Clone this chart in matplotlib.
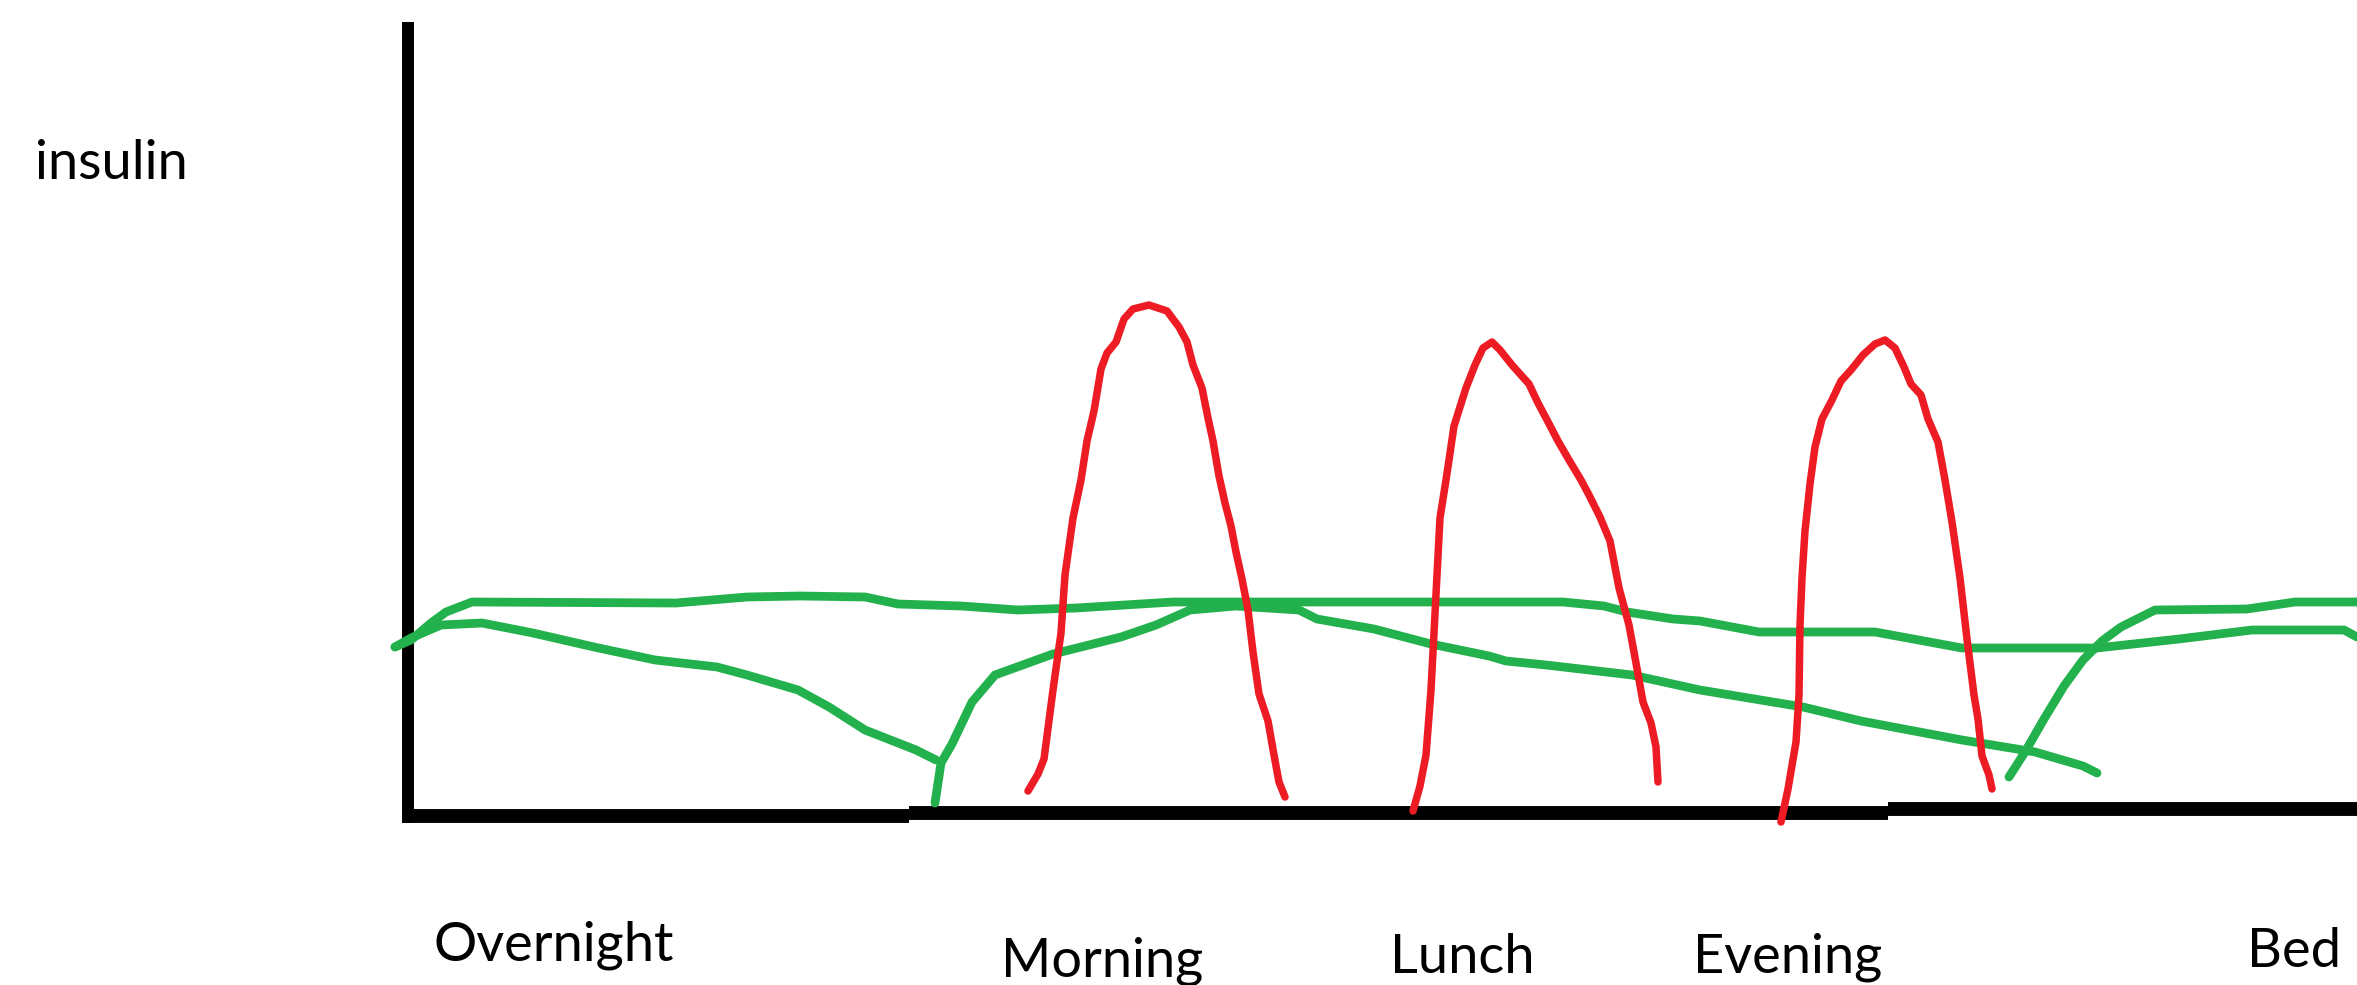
import matplotlib.pyplot as plt

# sketch of insulin over the day, coordinates (pixels, y down)
RED = "#ED1C24"
GREEN = "#22B14C"

# bolus peaks (red)
bolus1_x = [1028, 1038, 1044, 1053, 1061, 1065, 1073, 1081, 1087, 1094, 1101, 1107, 1116, 1124, 1133,
            1149, 1167, 1179, 1187, 1193, 1202, 1208, 1213, 1219, 1225, 1231, 1236, 1242, 1248, 1253,
            1259, 1268, 1274, 1279, 1285]
bolus1_y = [791, 774, 759, 690, 633, 575, 518, 480, 441, 411, 369, 353, 342, 319, 309,
            305, 311, 327, 342, 365, 388, 418, 441, 476, 503, 526, 552, 579, 610, 652,
            694, 721, 755, 782, 797]

bolus2_x = [1413, 1420, 1426, 1431, 1434, 1437, 1440, 1446, 1449, 1454, 1460, 1466, 1475, 1483, 1492,
            1500, 1512, 1529, 1538, 1546, 1558, 1569, 1581, 1589, 1600, 1610, 1619, 1629, 1636, 1643,
            1651, 1656, 1658]
bolus2_y = [811, 786, 755, 690, 633, 575, 518, 480, 460, 426, 407, 388, 365, 348, 342,
            350, 365, 384, 403, 418, 441, 460, 480, 495, 517, 541, 588, 625, 663, 702,
            723, 747, 782]

bolus3_x = [1781, 1788, 1796, 1799, 1800, 1802, 1805, 1810, 1815, 1822, 1832, 1841, 1851, 1863, 1875,
            1885, 1895, 1904, 1911, 1921, 1928, 1938, 1945, 1952, 1960, 1967, 1974, 1978, 1982, 1989,
            1992]
bolus3_y = [822, 789, 742, 695, 625, 578, 531, 484, 447, 419, 400, 381, 370, 355, 344,
            340, 348, 367, 384, 395, 419, 442, 480, 522, 578, 639, 695, 719, 756, 775,
            789]

# basal curves (green)
basal_a_x = [395, 411, 431, 446, 472, 676, 747, 800, 865, 898, 961, 1018, 1076, 1173, 1259, 1400,
             1563, 1604, 1627, 1673, 1700, 1759, 1875, 1962, 2097, 2179, 2252, 2344, 2357]
basal_a_y = [647, 640, 623, 612, 602, 603, 597, 596, 597, 604, 606, 610, 608, 602, 602, 602,
             602, 606, 612, 619, 621, 632, 632, 648, 648, 639, 630, 630, 637]

basal_b_x = [395, 411, 441, 482, 533, 594, 655, 717, 747, 798, 829, 865, 916, 936]
basal_b_y = [647, 638, 625, 623, 633, 647, 660, 667, 675, 690, 707, 730, 750, 760]

basal_c_x = [935, 941, 952, 972, 995, 1053, 1121, 1156, 1190, 1236, 1299, 1317, 1374, 1431, 1489,
             1506, 1546, 1632, 1700, 1803, 1861, 1962, 2035, 2083, 2097]
basal_c_y = [803, 763, 744, 702, 675, 654, 637, 625, 610, 606, 610, 619, 629, 644, 656,
             661, 665, 675, 690, 707, 721, 740, 752, 766, 773]

basal_d_x = [2009, 2025, 2044, 2064, 2083, 2102, 2121, 2155, 2247, 2295, 2357]
basal_d_y = [777, 752, 719, 686, 660, 641, 627, 610, 609, 602, 602]

# hand drawn axes
yaxis_x = [408, 408]
yaxis_y = [22, 823]
xaxis_x = [[414, 909], [909, 1888], [1888, 2357]]
xaxis_y = [[816, 816], [813, 813], [809, 809]]

labels = ["Overnight", "Morning", "Lunch", "Evening", "Bed"]
labels_x = [433, 1001, 1390, 1693, 2247]
labels_y = [961, 977, 973, 972, 967]

fig = plt.figure(figsize=(23.57, 9.85), dpi=100)
ax = fig.add_axes([0, 0, 1, 1])
ax.set_xlim(0, 2357)
ax.set_ylim(985, 0)
ax.axis("off")

ax.plot(yaxis_x, yaxis_y, color="black", lw=8.6, solid_capstyle="butt")
for xs, ys in zip(xaxis_x, xaxis_y):
    ax.plot(xs, ys, color="black", lw=10, solid_capstyle="butt")

for xs, ys in [(basal_a_x, basal_a_y), (basal_b_x, basal_b_y),
               (basal_c_x, basal_c_y), (basal_d_x, basal_d_y)]:
    ax.plot(xs, ys, color=GREEN, lw=6.3, solid_capstyle="round", solid_joinstyle="round")

for xs, ys in [(bolus1_x, bolus1_y), (bolus2_x, bolus2_y), (bolus3_x, bolus3_y)]:
    ax.plot(xs, ys, color=RED, lw=5.4, solid_capstyle="round", solid_joinstyle="round")

ax.text(35, 179, "insulin", fontsize=39, family="Lato", ha="left", va="baseline")
for lab, x, y in zip(labels, labels_x, labels_y):
    ax.text(x, y, lab, fontsize=39, family="Lato", ha="left", va="baseline")

fig.savefig("out.png", dpi=100)
